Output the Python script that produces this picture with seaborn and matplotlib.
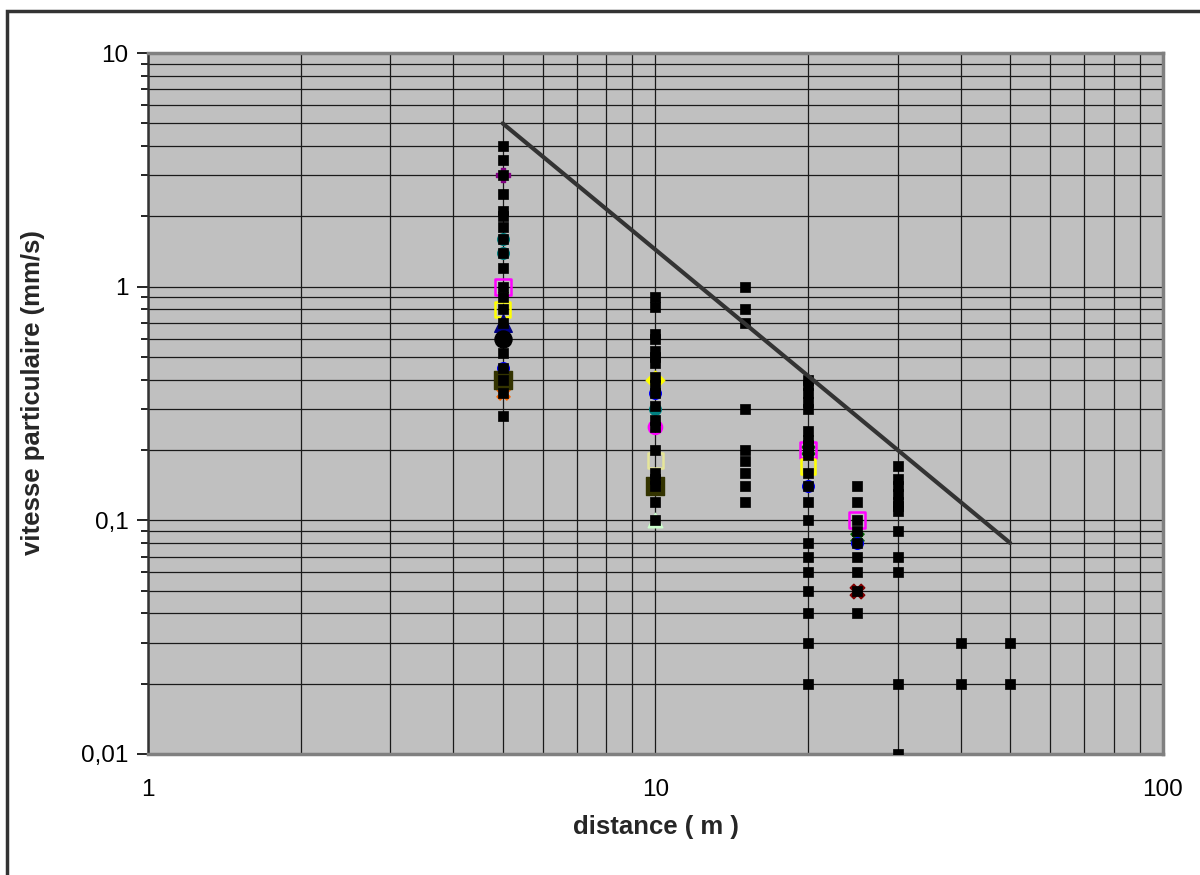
import matplotlib
matplotlib.use("Agg")
import matplotlib.pyplot as plt
import matplotlib.ticker as mticker
import numpy as np
import pandas as pd
import seaborn as sns
from matplotlib.patches import Rectangle

sns.set_theme(style="white")
plt.rcParams["font.family"] = ["Liberation Sans", "DejaVu Sans"]

# measured points (black squares)
dist_5 = [4, 3.5, 3, 2.5, 2.1, 2.0, 1.8, 1.6, 1.4, 1.2, 1.0, 0.9, 0.8, 0.7,
          0.6, 0.52, 0.45, 0.4, 0.35, 0.28]
dist_10 = [0.9, 0.82, 0.63, 0.6, 0.53, 0.5, 0.47, 0.41, 0.38, 0.35, 0.31,
           0.27, 0.25, 0.2, 0.16, 0.15, 0.14, 0.12, 0.1]
dist_15 = [1.0, 0.8, 0.7, 0.3, 0.2, 0.18, 0.16, 0.14, 0.12]
dist_20 = [0.4, 0.38, 0.35, 0.32, 0.3, 0.24, 0.22, 0.21, 0.2, 0.19, 0.16,
           0.14, 0.12, 0.1, 0.08, 0.07, 0.06, 0.05, 0.04, 0.03, 0.02]
dist_25 = [0.14, 0.12, 0.1, 0.09, 0.08, 0.07, 0.06, 0.05, 0.04]
dist_30 = [0.17, 0.15, 0.14, 0.13, 0.12, 0.115, 0.11, 0.09, 0.07, 0.06,
           0.02, 0.01]
dist_40 = [0.03, 0.02]
dist_50 = [0.03, 0.02]

# other series, mostly hidden under the black squares
magenta_x = [5, 20, 25]
magenta_y = [1.0, 0.2, 0.1]
magenta_ring_x = [10]
magenta_ring_y = [0.25]
yellow_x = [5, 20]
yellow_y = [0.8, 0.17]
pale_x = [10]
pale_y = [0.18]
navy_x = [5]
navy_y = [0.7]
circle_x = [5]
circle_y = [0.6]
olive_x = [5, 10]
olive_y = [0.4, 0.14]
blue_x = [5, 10, 20, 25]
blue_y = [0.45, 0.35, 0.14, 0.08]
teal_x = [5, 5, 10]
teal_y = [1.6, 1.4, 0.3]
orange_x = [5]
orange_y = [0.35]
darkred_x = [25]
darkred_y = [0.05]
green_x = [20, 25]
green_y = [0.2, 0.085]
diamond_x = [10]
diamond_y = [0.4]
lightgreen_x = [10]
lightgreen_y = [0.1]
purple_x = [5]
purple_y = [3.0]

# limit line
line_x = [5, 50]
line_y = [5, 0.08]

measured = pd.DataFrame({
    "distance": [5] * len(dist_5) + [10] * len(dist_10) + [15] * len(dist_15)
    + [20] * len(dist_20) + [25] * len(dist_25) + [30] * len(dist_30)
    + [40] * len(dist_40) + [50] * len(dist_50),
    "vitesse": dist_5 + dist_10 + dist_15 + dist_20 + dist_25 + dist_30
    + dist_40 + dist_50,
})

fig = plt.figure(figsize=(12, 8.75), dpi=100)
ax = fig.add_axes([0.1233, 0.1383, 0.8458, 0.8011])
ax.set_facecolor("#c0c0c0")
ax.set_xscale("log")
ax.set_yscale("log")
ax.set_xlim(1, 100)
ax.set_ylim(0.01, 10)

ax.grid(which="both", color="#1a1a1a", linewidth=0.9)
ax.set_axisbelow(True)

# colored series, drawn first so the black squares cover them
extra = [
    (purple_x, purple_y, "P", "#800080", True, 90),
    (teal_x, teal_y, "o", "#008080", True, 70),
    (orange_x, orange_y, "X", "#ff6600", True, 90),
    (darkred_x, darkred_y, "X", "#800000", True, 110),
    (green_x, green_y, "X", "#006400", True, 90),
    (blue_x, blue_y, "o", "#0000ff", True, 70),
    (magenta_x, magenta_y, "s", "#ff00ff", False, 130),
    (magenta_ring_x, magenta_ring_y, "o", "#ff00ff", False, 90),
    (yellow_x, yellow_y, "s", "#ffff00", False, 110),
    (pale_x, pale_y, "s", "#e6e69a", False, 110),
    (diamond_x, diamond_y, "D", "#ffff00", True, 90),
    (lightgreen_x, lightgreen_y, "^", "#ccffcc", True, 110),
    (navy_x, navy_y, "^", "#000080", True, 160),
    (olive_x, olive_y, "s", "#333300", True, 150),
    (circle_x, circle_y, "o", "black", True, 150),
]
for xs, ys, mk, col, filled, size in extra:
    if filled:
        sns.scatterplot(x=xs, y=ys, marker=mk, color=col, s=size,
                        edgecolor=col, linewidth=1, ax=ax, zorder=3)
    else:
        sns.scatterplot(x=xs, y=ys, marker=mk, s=size, facecolors="none",
                        edgecolor=col, linewidth=1.8, ax=ax, zorder=3)

sns.scatterplot(data=measured, x="distance", y="vitesse", marker="s",
                color="black", s=58, edgecolor="black", linewidth=0.5,
                ax=ax, zorder=4)

sns.lineplot(x=line_x, y=line_y, color="#333333", linewidth=3, ax=ax,
             zorder=5)

# ticks
ax.xaxis.set_major_locator(mticker.LogLocator(base=10, numticks=10))
ax.xaxis.set_minor_locator(mticker.LogLocator(base=10, subs=np.arange(2, 10),
                                              numticks=20))
ax.yaxis.set_major_locator(mticker.LogLocator(base=10, numticks=10))
ax.yaxis.set_minor_locator(mticker.LogLocator(base=10, subs=np.arange(2, 10),
                                              numticks=20))
ax.xaxis.set_major_formatter(mticker.FuncFormatter(lambda v, p: f"{v:g}"))
ax.xaxis.set_minor_formatter(mticker.NullFormatter())
ax.yaxis.set_major_formatter(
    mticker.FuncFormatter(lambda v, p: f"{v:g}".replace(".", ",")))
ax.yaxis.set_minor_formatter(mticker.NullFormatter())

ax.tick_params(axis="x", which="both", length=0, labelsize=17.5, pad=18,
               colors="black")
ax.tick_params(axis="y", which="major", length=8, width=1.2, labelsize=17.5,
               pad=6, left=True, colors="black")
ax.tick_params(axis="y", which="minor", length=5, width=1.2, left=True,
               color="black")

for side in ["top", "right", "bottom"]:
    ax.spines[side].set_color("#808080")
    ax.spines[side].set_linewidth(2.5)
ax.spines["left"].set_color("#333333")
ax.spines["left"].set_linewidth(1.8)

ax.set_xlabel("distance ( m )", fontsize=18.5, fontweight="bold")
ax.set_ylabel("vitesse particulaire (mm/s)", fontsize=18.5,
              fontweight="bold")
ax.xaxis.set_label_coords(0.5, -0.087)
ax.yaxis.set_label_coords(-0.101, 0.515)

# outer chart frame
fig.patches.append(Rectangle((7 / 1200, -0.01), 1.2, 1 - 11 / 875 + 0.01,
                             transform=fig.transFigure, fill=False,
                             edgecolor="#333333", linewidth=2.5))

fig.savefig("out.png", dpi=100, facecolor="white")
